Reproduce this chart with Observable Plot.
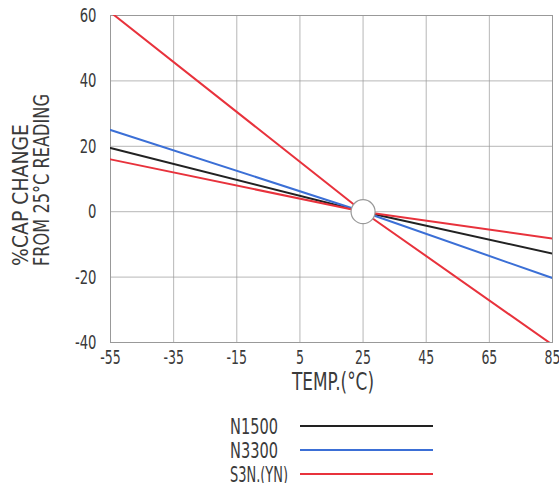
<!DOCTYPE html>
<html>
<head>
<meta charset="utf-8">
<script src="https://cdn.jsdelivr.net/npm/d3@7"></script>
<script src="https://cdn.jsdelivr.net/npm/@observablehq/plot@0.6"></script>
<style>
  body { margin: 0; background: #fff; overflow: hidden; }
  #chart { width: 559px; }
  svg { display: block; overflow: visible; }
</style>
</head>
<body>
<div id="chart"></div>
<script>
// Data
const temps = [-55, 25, 85];
const seriesNames = ["N1500", "N3300", "S3N.(YN) high", "S3N.(YN) low"];
const n1500 = [19.5, 0, -12.8];
const n3300 = [25, 0, -20.3];
const s3nHigh = [61, 0, -40.7];
const s3nLow = [16, 0, -8.2];
const xTicks = [-55, -35, -15, 5, 25, 45, 65, 85];
const yTicks = [-40, -20, 0, 20, 40, 60];
const xLabel = "TEMP.(°C)";
const yLabelLines = ["%CAP CHANGE", "FROM 25°C READING"];
const legendLabels = ["N1500", "N3300", "S3N.(YN)"];
const colors = ["#222222", "#3b6fd6", "#e8323c", "#e8323c"];
const legendColors = ["#222222", "#3b6fd6", "#e8323c"];

const rows = [];
[n1500, n3300, s3nHigh, s3nLow].forEach((vals, i) => {
  vals.forEach((v, j) => rows.push({series: seriesNames[i], t: temps[j], v}));
});

const font = '"DejaVu Sans", sans-serif';

// squeeze a text horizontally to imitate a condensed typeface
function condense(el, factor, target) {
  const len = el.getComputedTextLength();
  if (!len) return;
  el.setAttribute("textLength", target != null ? target : len * factor);
  el.setAttribute("lengthAdjust", "spacingAndGlyphs");
}

const plot = Plot.plot({
  width: 559,
  height: 395,
  marginLeft: 110,
  marginRight: 7,
  marginTop: 15,
  marginBottom: 53,
  style: {fontFamily: font, fontSize: "15px", color: "#3a3a3a", background: "#fff", overflow: "visible"},
  x: {domain: [-55, 85], tickSize: 0, label: null},
  y: {domain: [-40, 60], tickSize: 0, label: null},
  color: {domain: seriesNames, range: colors},
  marks: [
    Plot.gridX(xTicks, {stroke: "#999", strokeOpacity: 0.7}),
    Plot.gridY(yTicks, {stroke: "#999", strokeOpacity: 0.7}),
    Plot.frame({stroke: "#999"}),
    Plot.axisX({ticks: xTicks, tickSize: 0, tickPadding: 8, fontSize: 19, label: null, tickFormat: d => String(d)}),
    Plot.axisY({ticks: yTicks, tickSize: 0, tickPadding: 14, fontSize: 20, label: null, dy: 0, tickFormat: d => String(d)}),
    Plot.line(rows, {x: "t", y: "v", z: "series", stroke: "series", strokeWidth: 2, clip: true}),
    Plot.dot([{t: 25, v: 0}], {x: "t", y: "v", r: 12, fill: "white", stroke: "#999", strokeWidth: 1.2})
  ]
});
document.getElementById("chart").appendChild(plot);

const svg = d3.select(plot);
// condense tick labels
svg.selectAll("text").each(function() { condense(this, 0.66); });

// x-axis title
svg.append("text")
  .attr("x", 333).attr("y", 390)
  .attr("text-anchor", "middle")
  .attr("font-family", font).attr("font-size", 24).attr("fill", "#3a3a3a")
  .text(xLabel)
  .each(function() { condense(this, null, 82); });

// y-axis title (two lines, start-anchored at bottom)
const titleG = svg.append("g")
  .attr("transform", "translate(0,266) rotate(-90)")
  .attr("font-family", font)
  .attr("font-size", 22)
  .attr("fill", "#3a3a3a")
  .attr("text-anchor", "start");
const yTargets = [142, 172];
yLabelLines.forEach((s, i) => titleG.append("text").attr("x", 0).attr("y", 28 + i * 21).text(s)
  .each(function() { condense(this, null, yTargets[i]); }));

// Legend
const leg = d3.select("#chart").append("svg").attr("width", 559).attr("height", 88);
const legTargets = [48, 48, 58];
legendLabels.forEach((lab, i) => {
  const y = 31 + i * 24;
  leg.append("text").attr("y", y + 8).attr("text-anchor", "end")
    .attr("font-family", font).attr("font-size", 22).attr("fill", "#3a3a3a").text(lab)
    .each(function() { condense(this, null, legTargets[i]); this.setAttribute("x", 230 + legTargets[i]); });
  leg.append("line").attr("x1", 300).attr("x2", 433).attr("y1", y).attr("y2", y)
    .attr("stroke", legendColors[i]).attr("stroke-width", 2);
});
</script>
</body>
</html>
